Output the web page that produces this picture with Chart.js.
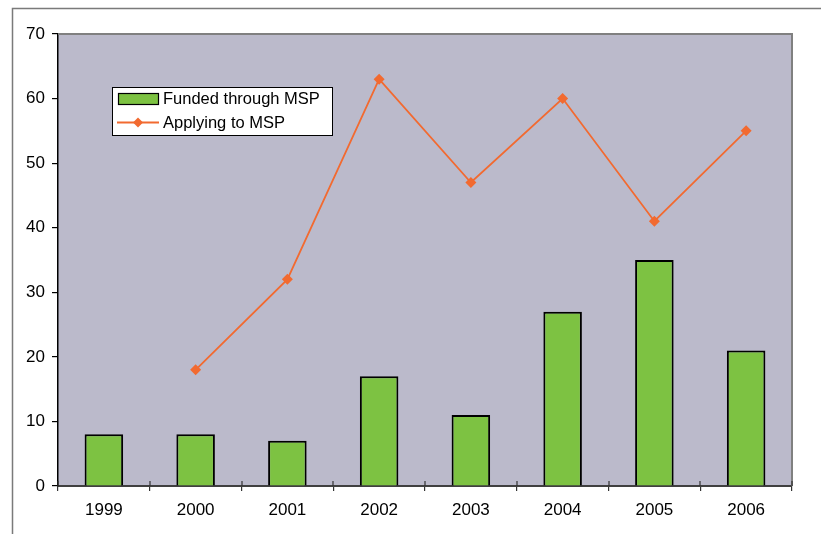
<!DOCTYPE html>
<html>
<head>
<meta charset="utf-8">
<script src="https://cdn.jsdelivr.net/npm/chart.js@4/dist/chart.umd.min.js"></script>
<style>
html,body{margin:0;padding:0;background:#fff;}
#wrap{width:821px;height:534px;position:relative;}
</style>
</head>
<body>
<div id="wrap"><canvas id="c" width="821" height="534"></canvas></div>
<script>
const years = ["1999","2000","2001","2002","2003","2004","2005","2006"];
const funded = [8, 8, 7, 17, 11, 27, 35, 21];
const applying = [null, 18, 32, 63, 47, 60, 41, 55];
const yTicks = [0, 10, 20, 30, 40, 50, 60, 70];
const seriesNames = ["Funded through MSP", "Applying to MSP"];

const FONT = "'Liberation Sans', Arial, sans-serif";
const GREEN = "#7DC242";
const ORANGE = "#F26A30";

const framePlugin = {
  id: 'frame',
  beforeDraw(chart) {
    const {ctx, chartArea: a} = chart;
    ctx.save();
    ctx.fillStyle = "#BBBACB";
    ctx.fillRect(a.left, a.top, a.right - a.left, a.bottom - a.top);
    ctx.strokeStyle = "#7a7a7a";
    ctx.lineWidth = 1.5;
    ctx.beginPath();
    ctx.moveTo(12.5, 534);
    ctx.lineTo(12.5, 8.5);
    ctx.lineTo(821, 8.5);
    ctx.stroke();
    ctx.restore();
  },
  afterDatasetsDraw(chart) {
    const {ctx, chartArea: a} = chart;
    ctx.save();
    ctx.strokeStyle = "#808080";
    ctx.lineWidth = 2;
    ctx.beginPath();
    ctx.moveTo(a.left, a.top);
    ctx.lineTo(a.right, a.top);
    ctx.lineTo(a.right, a.bottom);
    ctx.stroke();
    const xs = chart.scales.x;
    ctx.strokeStyle = "#333";
    ctx.lineWidth = 1.2;
    for (let i = 0; i <= years.length; i++) {
      const x = Math.round(xs.getPixelForValue(i - 0.5));
      ctx.beginPath();
      ctx.moveTo(x, a.bottom);
      ctx.lineTo(x, a.bottom - 5);
      ctx.stroke();
    }
    // legend
    const lx = 112.5, ly = 87.5, lw = 220, lh = 48;
    ctx.fillStyle = "#fff";
    ctx.fillRect(lx, ly, lw, lh);
    ctx.strokeStyle = "#000";
    ctx.lineWidth = 1;
    ctx.strokeRect(lx, ly, lw, lh);
    ctx.font = "16.5px " + FONT;
    ctx.textBaseline = "middle";
    ctx.fillStyle = GREEN;
    ctx.fillRect(118.5, 93.5, 40, 11);
    ctx.strokeStyle = "#000";
    ctx.lineWidth = 1.2;
    ctx.strokeRect(118.5, 93.5, 40, 11);
    ctx.fillStyle = "#000";
    ctx.fillText(seriesNames[0], 163, 99.5);
    ctx.strokeStyle = ORANGE;
    ctx.lineWidth = 1.8;
    ctx.beginPath();
    ctx.moveTo(117, 122.5);
    ctx.lineTo(159, 122.5);
    ctx.stroke();
    ctx.fillStyle = ORANGE;
    ctx.beginPath();
    ctx.moveTo(138, 117.5); ctx.lineTo(143, 122.5); ctx.lineTo(138, 127.5); ctx.lineTo(133, 122.5);
    ctx.closePath(); ctx.fill();
    ctx.fillStyle = "#000";
    ctx.fillText(seriesNames[1], 163, 123);
    ctx.restore();
  }
};

new Chart(document.getElementById('c'), {
  data: {
    labels: years,
    datasets: [
      {
        type: 'line',
        label: seriesNames[1],
        data: applying,
        borderColor: ORANGE,
        backgroundColor: ORANGE,
        borderWidth: 1.8,
        pointStyle: 'rectRot',
        pointRadius: 5.5,
        pointBorderWidth: 0,
        tension: 0,
        order: 0
      },
      {
        type: 'bar',
        label: seriesNames[0],
        data: funded,
        backgroundColor: GREEN,
        borderColor: "#000",
        borderWidth: 2,
        barPercentage: 0.84,
        categoryPercentage: 0.5,
        order: 1
      }
    ]
  },
  options: {
    responsive: false,
    animation: false,
    devicePixelRatio: 1,
    layout: {padding: {left: 0, top: 34, right: 29, bottom: 0}},
    plugins: {legend: {display: false}, tooltip: {enabled: false}},
    scales: {
      x: {
        offset: true,
        grid: {offset: true, drawOnChartArea: false, tickLength: 5, color: "#333", lineWidth: 1.2},
        border: {color: "#404040", width: 2},
        ticks: {font: {family: FONT, size: 17}, color: "#000", padding: 9, maxRotation: 0},
        afterFit(s) { s.height = 48; }
      },
      y: {
        min: 0, max: 70,
        afterBuildTicks(s) { s.ticks = yTicks.map(v => ({value: v})); },
        grid: {drawOnChartArea: false, tickLength: 6, color: "#000", lineWidth: 1.2},
        border: {color: "#000", width: 1.5},
        ticks: {font: {family: FONT, size: 17}, color: "#000", padding: 7},
        afterFit(s) { s.width = 58; }
      }
    }
  },
  plugins: [framePlugin]
});
</script>
</body>
</html>
